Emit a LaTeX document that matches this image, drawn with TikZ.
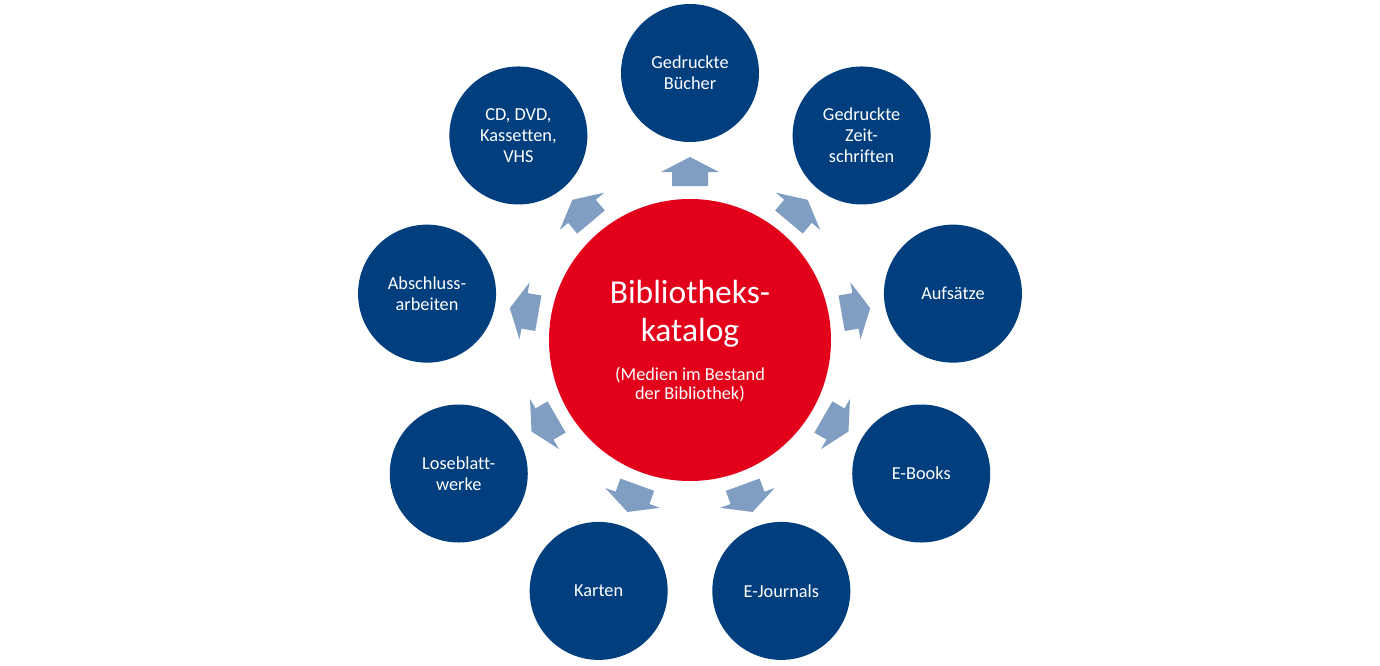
\documentclass[tikz,border=0pt]{standalone}
\usepackage{fontspec}
\setmainfont[Ligatures=NoCommon]{Carlito}
\definecolor{nodeblue}{HTML}{003E7E}
\definecolor{katred}{HTML}{E2001A}
\definecolor{arrowblue}{HTML}{7F9EC2}
\begin{document}
\begin{tikzpicture}[x=1pt,y=1pt,
  outer/.style={circle,fill=nodeblue,minimum size=138pt,inner sep=0pt,text=white,align=center,font=\fontsize{18.3}{21}\selectfont},
  center/.style={circle,fill=katred,minimum size=282pt,inner sep=0pt},
  bigtext/.style={anchor=base,inner sep=0pt,text=white,font=\fontsize{33.5}{38}\selectfont},
  smalltext/.style={anchor=base,inner sep=0pt,text=white,font=\fontsize{18.3}{21}\selectfont},
  blockarrow/.style={fill=arrowblue,draw=none}]
\useasboundingbox (-690,-325) rectangle (690,340);
\node[center] (c) at (0,0) {};
\node[bigtext] (t1) at (0,37) {Bibliotheks-};
\node[bigtext] (t2) at (0,-1) {katalog};
\node[smalltext] (t3) at (0,-40.7) {(Medien im Bestand};
\node[smalltext] (t4) at (0,-59.5) {der Bibliothek)};
\foreach \a/\n/\t in {90/b1/{Gedruckte\\Bücher},
  50/b2/{Gedruckte\\Zeit-\\schriften},
  10/b3/{Aufsätze},
  -30/b4/{E-Books},
  -70/b5/{E-Journals},
  -110/b6/{Karten},
  -150/b7/{Loseblatt-\\werke},
  170/b8/{Abschluss-\\arbeiten},
  130/b9/{CD, DVD,\\Kassetten,\\VHS}}{
  \node[outer] (\n) at (\a:267) {\t};
  \fill[blockarrow,rotate=\a] (154,-18) -- (168,-18) -- (168,-29) -- (183,0) -- (168,29) -- (168,18) -- (154,18) -- cycle;
}
\end{tikzpicture}
\end{document}
